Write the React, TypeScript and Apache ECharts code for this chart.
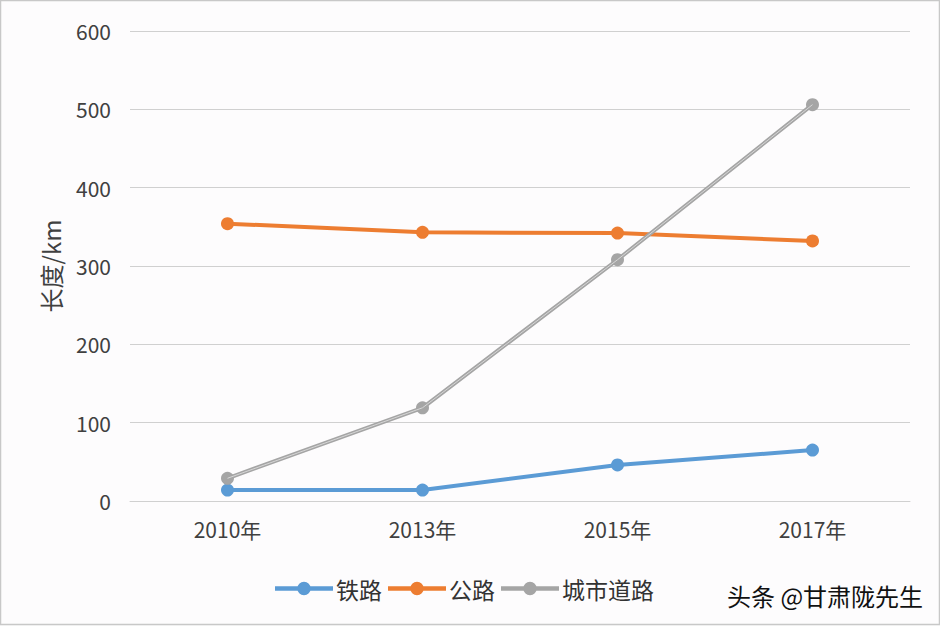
import React, { useEffect, useRef } from "react";
import * as echarts from "echarts";

const categories = ["2010年", "2013年", "2015年", "2017年"];
const railway = [14, 14, 46, 65];
const highway = [354, 343, 342, 332];
const cityRoad = [29, 119, 308, 506];
const seriesNames = ["铁路", "公路", "城市道路"];
const yTicks = { min: 0, max: 600, interval: 100 };

const legendIcon =
  "path://M0,5 L58,5 L58,9.5 L0,9.5 Z M29,0.5 A6.75,6.75 0 1 1 29,14 A6.75,6.75 0 1 1 29,0.5 Z";

export default function App() {
  const ref = useRef<HTMLDivElement>(null);
  useEffect(() => {
    const chart = echarts.init(ref.current!, null, { renderer: "svg" });
    const font = "'Noto Sans CJK SC', 'Noto Sans', sans-serif";
    const mk = (name: string, data: number[], color: string) => ({
      name,
      type: "line",
      data,
      symbol: "circle",
      symbolSize: 13,
      lineStyle: { color, width: 4 },
      itemStyle: { color },
      z: 3,
    });
    chart.setOption({
      animation: false,
      backgroundColor: "#fdfcfd",
      textStyle: { fontFamily: font },
      grid: { left: 130, right: 30, top: 31, bottom: 125 },
      xAxis: {
        type: "category",
        data: categories,
        boundaryGap: true,
        axisLine: { lineStyle: { color: "#d0d0d0", width: 1 } },
        axisTick: { show: false },
        axisLabel: { color: "#404040", fontSize: 21, margin: 17, fontFamily: font },
      },
      yAxis: {
        type: "value",
        min: yTicks.min,
        max: yTicks.max,
        interval: yTicks.interval,
        name: "长度/km",
        nameLocation: "middle",
        nameGap: 68,
        nameRotate: 90,
        nameTextStyle: { color: "#404040", fontSize: 24, fontFamily: font },
        axisLine: { show: false },
        axisTick: { show: false },
        axisLabel: { color: "#404040", fontSize: 21, margin: 19, fontFamily: font },
        splitLine: { lineStyle: { color: "#d0d0d0", width: 1 } },
      },
      legend: {
        data: seriesNames.map((n) => ({ name: n, icon: legendIcon })),
        left: 270,
        top: 572,
        itemWidth: 58,
        itemHeight: 14,
        itemGap: 6,
        textStyle: { color: "#333", fontSize: 23, fontFamily: font, padding: [0, 0, 0, -2] },
      },
      graphic: [
        {
          type: "rect",
          shape: { x: 0.5, y: 0.5, width: 939, height: 624 },
          style: { fill: "none", stroke: "#c8c8c8", lineWidth: 1.5 },
          silent: true,
        },
        {
          type: "text",
          left: 727,
          top: 583,
          style: { text: "头条 @甘肃陇先生", fill: "#111", fontSize: 24, fontFamily: font },
        },
      ],
      series: [
        mk(seriesNames[0], railway, "#5B9BD5"),
        mk(seriesNames[1], highway, "#ED7D31"),
        mk(seriesNames[2], cityRoad, "#A5A5A5"),
        {
          name: "城市道路高光",
          type: "line",
          data: cityRoad,
          symbol: "none",
          lineStyle: { color: "#d6d6d6", width: 1 },
          z: 4,
          silent: true,
        },
      ],
    });
    return () => chart.dispose();
  }, []);
  return <div ref={ref} style={{ width: 940, height: 626, position: "absolute", left: 0, top: 0 }} />;
}
